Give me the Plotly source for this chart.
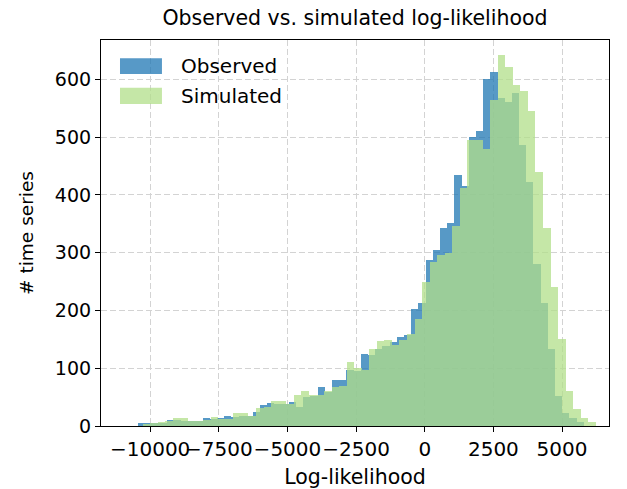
import plotly.graph_objects as go
import numpy as np

# ---- data ----
observed_start = -10450.0   # left edge of first observed bin
observed_width = 262.0      # observed bin width
observed_counts = [
    6, 6, 5, 5, 10, 11, 9, 8, 8, 13,
    12, 14, 18, 16, 18, 17, 25, 36, 39, 38,
    38, 42, 33, 50, 52, 68, 58, 80, 79, 97,
    96, 125, 123, 133, 138, 146, 154, 157, 203, 213,
    287, 304, 343, 352, 435, 415, 500, 510, 600, 612,
    568, 560, 576, 486, 423, 280, 213, 133, 52, 22,
    14, 7,
]

simulated_start = -10270.0  # left edge of first simulated bin
simulated_width = 275.0     # simulated bin width
simulated_counts = [
    3, 6, 7, 8, 13, 13, 8, 8, 11, 16,
    12, 12, 22, 22, 18, 31, 33, 44, 44, 38,
    53, 60, 53, 53, 60, 68, 70, 111, 101, 97,
    133, 147, 148, 140, 148, 160, 185, 250, 284, 296,
    300, 346, 412, 495, 495, 480, 564, 642, 622, 590,
    580, 546, 440, 342, 241, 150, 61, 29, 13, 7,
]

x_tick_vals = [-10000, -7500, -5000, -2500, 0, 2500, 5000]
x_tick_text = ["\u221210000", "\u22127500", "\u22125000", "\u22122500", "0", "2500", "5000"]
y_tick_vals = [0, 100, 200, 300, 400, 500, 600]

series_names = ["Observed", "Simulated"]
series_colors = ["#1f77b4", "#b2df8a"]
alpha = 0.75

obs_centers = observed_start + observed_width * (np.arange(len(observed_counts)) + 0.5)
sim_centers = simulated_start + simulated_width * (np.arange(len(simulated_counts)) + 0.5)

fig = go.Figure()
fig.add_trace(go.Bar(
    x=obs_centers, y=observed_counts, width=observed_width,
    marker=dict(color=series_colors[0], line=dict(width=0)),
    opacity=alpha, name=series_names[0], showlegend=False,
))
fig.add_trace(go.Bar(
    x=sim_centers, y=simulated_counts, width=simulated_width,
    marker=dict(color=series_colors[1], line=dict(width=0)),
    opacity=alpha, name=series_names[1], showlegend=False,
))

font_family = "DejaVu Sans"
grid_color = "#d3d3d3"

W, H = 627, 489
fig.update_layout(
    width=W, height=H,
    barmode="overlay",
    bargap=0,
    plot_bgcolor="white",
    paper_bgcolor="white",
    margin=dict(l=101, r=18, t=40, b=63, autoexpand=False),
    font=dict(family=font_family, color="black", size=19),
    title=dict(
        text="Observed vs. simulated log-likelihood",
        x=0.5, xanchor="center", xref="paper",
        y=1 - 18 / H, yanchor="middle",
        font=dict(size=20.5, family=font_family, color="black"),
    ),
    xaxis=dict(
        range=[-11790, 6710],
        tickvals=x_tick_vals, ticktext=x_tick_text,
        tickangle=0, automargin=False,
        showline=True, mirror=True, linecolor="black", linewidth=1.2,
        ticks="outside", ticklen=5, tickwidth=1.2, tickcolor="black",
        showgrid=True, gridcolor=grid_color, griddash="6px,3px", gridwidth=1.3,
        zeroline=False,
        tickfont=dict(size=20),
        title=dict(text="Log-likelihood", font=dict(size=20.5), standoff=12),
    ),
    yaxis=dict(
        range=[0, 668],
        tickvals=y_tick_vals, automargin=False,
        showline=True, mirror=True, linecolor="black", linewidth=1.2,
        ticks="outside", ticklen=5, tickwidth=1.2, tickcolor="black",
        showgrid=True, gridcolor=grid_color, griddash="6px,3px", gridwidth=1.3,
        zeroline=False,
        tickfont=dict(size=19),
        title=dict(text="# time series", font=dict(size=18.5), standoff=16),
    ),
)

# legend drawn as patches + text (matplotlib-style legend, no frame)
legend_rows = [(0.953, 0.912), (0.876, 0.834)]
for (y1, y0), name, col in zip(legend_rows, series_names, series_colors):
    fig.add_shape(type="rect", xref="paper", yref="paper",
                  x0=0.0374, x1=0.120, y0=y0, y1=y1,
                  fillcolor=col, opacity=alpha, line=dict(width=0))
    fig.add_annotation(xref="paper", yref="paper", x=0.1535, y=(y0 + y1) / 2,
                       text=name, showarrow=False, xanchor="left", yanchor="middle",
                       font=dict(size=20, family=font_family, color="black"))

# remove the default 8px page margin so the figure fills the window exactly
fig.write_html("out.html", config={"displayModeBar": False},
               post_script="document.body.style.margin='0';")
